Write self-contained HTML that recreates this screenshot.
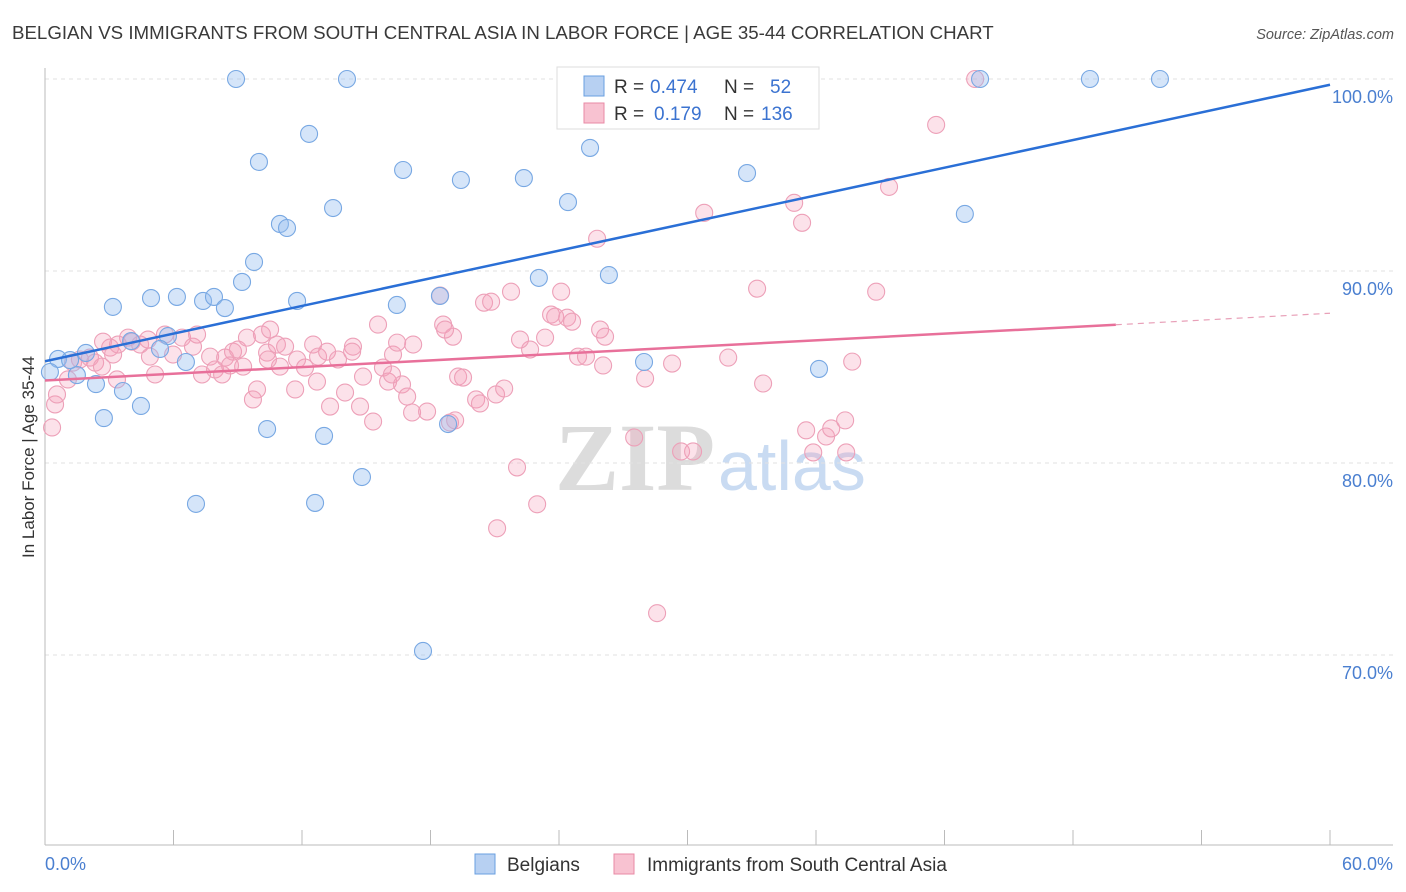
<!DOCTYPE html>
<html><head><meta charset="utf-8"><style>
body{margin:0;background:#fff}
svg{display:block;font-family:"Liberation Sans",sans-serif}
</style></head><body>
<svg id="chart" width="1406" height="892" viewBox="0 0 1406 892" xmlns="http://www.w3.org/2000/svg">
<text x="12" y="39" font-size="18.7" fill="#3a3a3a">BELGIAN VS IMMIGRANTS FROM SOUTH CENTRAL ASIA IN LABOR FORCE | AGE 35-44 CORRELATION CHART</text>
<text x="1394" y="39" font-size="14.5" fill="#555" text-anchor="end" font-style="italic">Source: ZipAtlas.com</text>
<text transform="translate(34,457) rotate(-90)" font-size="17" fill="#333" text-anchor="middle">In Labor Force | Age 35-44</text>
<g>
<text x="555" y="490" font-family="Liberation Serif,serif" font-weight="bold" font-size="96" fill="#dcdcdc">ZIP</text>
<text x="718" y="490" font-size="70" fill="#c9dbf2">atlas</text>
</g>
<g id="grid"></g>
<g id="axes"></g>
<g id="pinkpts"></g>
<g id="bluepts"></g>
<g id="lines"></g>
<g>
<rect x="557" y="67" width="262" height="62" fill="#fff" stroke="#ddd"/>
<rect x="584" y="76" width="20" height="20" fill="#b7d0f2" stroke="#6a9fe0"/>
<rect x="584" y="103" width="20" height="20" fill="#f8c2d1" stroke="#e88aa5"/>
<text y="93" font-size="19" fill="#333"><tspan x="614">R =</tspan><tspan x="650" fill="#3b73d0">0.474</tspan><tspan x="724">N =</tspan><tspan x="770" fill="#3b73d0">52</tspan></text>
<text y="120" font-size="19" fill="#333"><tspan x="614">R =</tspan><tspan x="654" fill="#3b73d0">0.179</tspan><tspan x="724">N =</tspan><tspan x="761" fill="#3b73d0">136</tspan></text>
</g>
<g>
<rect x="475" y="854" width="20" height="20" fill="#b7d0f2" stroke="#6a9fe0"/>
<text x="507" y="871" font-size="19" fill="#333">Belgians</text>
<rect x="614" y="854" width="20" height="20" fill="#f8c2d1" stroke="#e88aa5"/>
<text x="647" y="871" font-size="19" fill="#333">Immigrants from South Central Asia</text>
</g>
</svg>
<script>
const blueX=[8.92,14.10,43.66,48.79,52.06,12.33,9.99,16.72,19.42,22.36,25.45,32.78,10.97,11.30,13.45,24.42,42.95,9.76,9.20,23.06,26.33,3.17,4.95,6.16,7.38,7.89,8.40,11.77,16.43,18.44,5.74,5.37,6.58,4.02,0.61,1.91,1.49,2.38,3.64,2.75,4.48,10.37,13.03,14.80,7.05,12.61,17.65,18.82,27.97,36.14,0.23,1.17];
const blueY=[100,100,100,100,100,97.14,95.68,95.26,94.74,94.84,96.41,95.10,92.45,92.24,93.28,93.59,92.97,90.47,89.43,89.64,89.79,88.13,88.59,88.65,88.44,88.65,88.07,88.44,88.23,88.70,86.61,85.94,85.26,86.35,85.42,85.73,84.58,84.11,83.75,82.34,82.97,81.77,81.41,79.27,77.87,77.92,70.21,82.03,85.26,84.90,84.74,85.36];
const pinkX=[0.33,0.47,0.56,1.07,1.31,1.63,2.10,2.34,2.66,2.71,3.04,3.18,3.36,3.88,4.06,4.44,4.90,5.14,5.60,5.98,6.40,6.91,7.10,7.33,7.71,7.94,8.27,8.41,8.78,9.01,9.25,9.43,9.90,9.71,10.13,10.51,10.37,10.83,10.97,11.21,11.68,11.77,12.14,12.52,12.70,12.75,13.17,13.31,13.68,14.01,14.38,14.71,14.85,15.32,15.55,15.78,16.02,16.25,16.44,16.67,16.91,17.19,17.14,17.84,18.59,19.05,18.91,19.29,19.52,20.13,20.31,20.50,20.83,21.06,21.11,21.44,21.76,22.04,22.65,22.98,23.35,23.63,23.82,24.10,24.38,24.61,24.89,25.26,25.78,26.06,26.15,27.51,28.02,28.58,29.28,29.70,30.26,30.78,31.90,32.88,33.25,33.53,34.98,35.35,35.54,35.87,36.47,36.71,37.36,37.41,37.69,38.81,39.41,41.61,43.43,19.15,3.41,4.81,8.64,10.41,14.34,16.20,18.68,22.18,25.92,18.45];
const pinkY=[81.85,83.05,83.57,84.35,85.23,85.39,85.49,85.23,85.02,86.32,86.01,85.65,84.35,86.53,86.32,86.17,85.54,84.61,86.69,85.65,86.53,86.06,86.69,84.61,85.54,84.87,84.61,85.49,85.80,85.91,85.02,86.53,83.83,83.31,86.69,86.95,85.75,86.17,85.02,86.06,83.83,85.39,84.97,86.17,84.24,85.54,85.80,82.94,85.39,83.67,86.06,82.94,84.50,82.16,87.21,84.97,84.24,85.65,86.27,84.09,83.46,86.17,82.63,82.68,87.21,86.58,82.11,84.50,84.45,83.31,83.10,88.35,88.40,83.57,76.60,83.88,88.92,79.77,85.91,77.85,86.53,87.73,87.62,88.92,87.57,87.36,85.54,85.54,91.68,85.08,86.58,81.33,84.40,72.18,85.18,80.60,80.60,93.03,85.49,99.95,89.08,84.14,93.55,92.51,81.70,80.55,81.38,81.80,82.22,80.55,85.28,88.92,94.38,97.61,100,82.22,86.17,86.43,85.08,85.39,85.80,84.61,86.95,86.43,86.95,88.72];
const yTicks=[100,90,80,70];
const yTickLabels=["100.0%","90.0%","80.0%","70.0%"];
const blueTrend=[[0,85.3],[60,99.7]];
const pinkTrend=[[0,84.3],[50,87.2],[60,87.8]];
const NS="http://www.w3.org/2000/svg";
const X0=45,X1=1330;
const sx=v=>X0+(v/60)*(X1-X0);
const sy=v=>79+(100-v)*19.2;
function mk(tag,attrs,parent){const e=document.createElementNS(NS,tag);for(const k in attrs)e.setAttribute(k,attrs[k]);parent.appendChild(e);return e;}
const grid=document.getElementById('grid');
yTicks.forEach((t,i)=>{
  const l=mk('line',{x1:X0,x2:1393,y1:sy(t),y2:sy(t),stroke:'#e2e2e2','stroke-dasharray':'4,4'},grid);
  
  
  const tx=mk('text',{x:1393,y:sy(t)+24,'font-size':18,fill:'#4a7fd0','text-anchor':'end'},grid);
  tx.textContent=yTickLabels[i];
  
  
});
const axes=document.getElementById('axes');
const ya=mk('line',{x1:X0,x2:X0,y1:68,y2:845,stroke:'#bbb'},axes);


const xa=mk('line',{x1:X0,x2:1393,y1:845,y2:845,stroke:'#bbb'},axes);


for(let i=0;i<=10;i++){
  const t=mk('line',{x1:sx(i*6),x2:sx(i*6),y1:830,y2:845,stroke:'#bbb'},axes);
  
  
}
const xl0=mk('text',{x:45,y:870,'font-size':18,fill:'#4a7fd0'},axes);xl0.textContent="0.0%";


const xl1=mk('text',{x:1393,y:870,'font-size':18,fill:'#4a7fd0','text-anchor':'end'},axes);xl1.textContent="60.0%";


const pg=document.getElementById('pinkpts');
pinkX.forEach((x,i)=>{
  const c=mk('circle',{cx:sx(x),cy:sy(pinkY[i]),r:8.5,fill:'rgba(244,160,185,0.3)',stroke:'#eda0b8','stroke-width':1.1},pg);
  
  
});
const bg=document.getElementById('bluepts');
blueX.forEach((x,i)=>{
  const c=mk('circle',{cx:sx(x),cy:sy(blueY[i]),r:8.5,fill:'rgba(150,190,240,0.4)',stroke:'#78a8e3','stroke-width':1.1},bg);
  
  
});
const lg=document.getElementById('lines');
const bl=mk('line',{x1:sx(blueTrend[0][0]),y1:sy(blueTrend[0][1]),x2:sx(blueTrend[1][0]),y2:sy(blueTrend[1][1]),stroke:'#2a6fd6','stroke-width':2.5},lg);


const pl=mk('line',{x1:sx(pinkTrend[0][0]),y1:sy(pinkTrend[0][1]),x2:sx(pinkTrend[1][0]),y2:sy(pinkTrend[1][1]),stroke:'#e8709a','stroke-width':2.5},lg);


const pd=mk('line',{x1:sx(pinkTrend[1][0]),y1:sy(pinkTrend[1][1]),x2:sx(pinkTrend[2][0]),y2:sy(pinkTrend[2][1]),stroke:'#e8a0b8','stroke-width':1.2,'stroke-dasharray':'6,5'},lg);


</script>
</body></html>
